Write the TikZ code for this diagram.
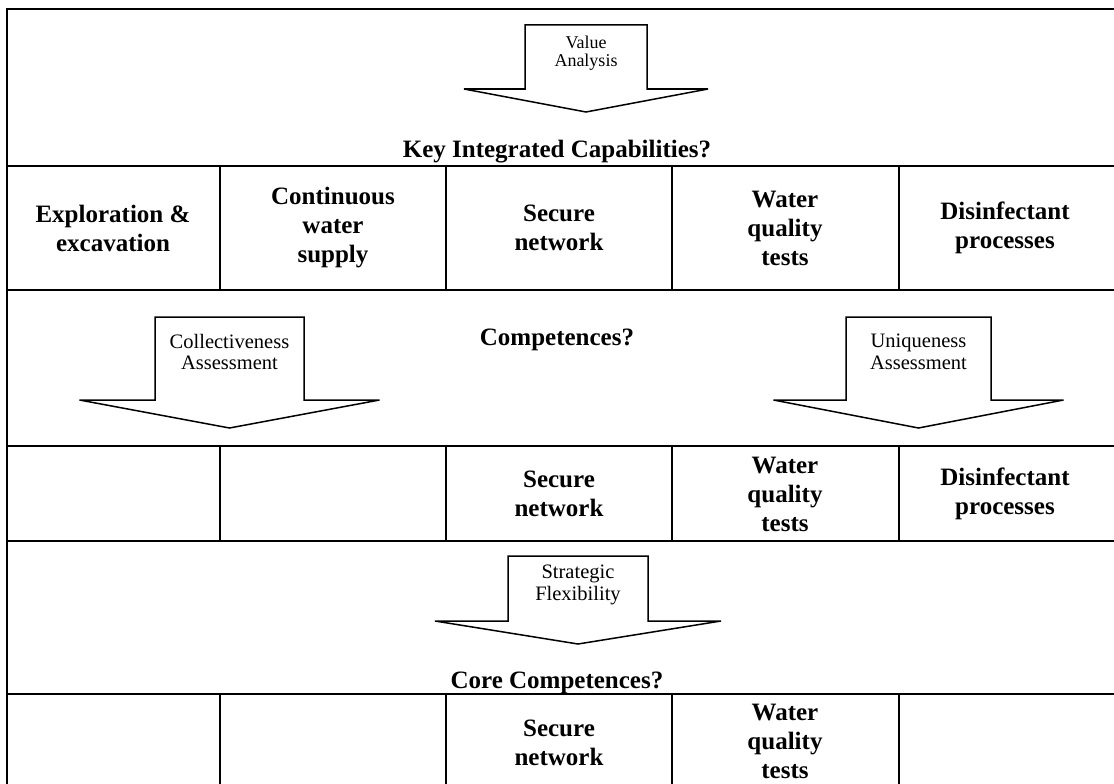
\documentclass[tikz,border=0pt]{standalone}
\usepackage{fontspec}
\setmainfont{Liberation Serif}
\begin{document}
\begin{tikzpicture}[x=1pt,y=-1pt,
  frame/.style={line width=1.6pt},
  cellline/.style={line width=1.4pt},
  arrowshape/.style={line width=1.5pt, fill=white, line join=miter},
  celltext/.style={align=center, font=\fontsize{25}{29}\selectfont\bfseries, inner sep=0pt},
  headtext/.style={font=\fontsize{25}{29}\selectfont\bfseries, inner sep=0pt},
  arrowtext/.style={align=center, font=\fontsize{20.5}{21.5}\selectfont, inner sep=0pt}]
\useasboundingbox (0,0) rectangle (1114,784);
\begin{scope}
\clip (0,0) rectangle (1114,784);
% outer frame (runs past the right and bottom edges)
\draw[frame] (1130,9) -- (7,9) -- (7,800);
% row separators
\foreach \y in {166,290,446,541,694}
  \draw[frame] (7,\y) -- (1130,\y);
% column separators in the three table rows
\foreach \x in {220,446,672,899} {
  \draw[cellline] (\x,166) -- (\x,290);
  \draw[cellline] (\x,446) -- (\x,541);
  \draw[cellline] (\x,694) -- (\x,800);
}
\end{scope}

% block arrow: centre x, box top, shoulder y, box half width, head half width, tip y
\newcommand{\blockarrow}[6]{%
  \draw[arrowshape] (#1-#4,#2) -- (#1+#4,#2) -- (#1+#4,#3) -- (#1+#5,#3)
    -- (#1,#6) -- (#1-#5,#3) -- (#1-#4,#3) -- cycle;}

\blockarrow{586}{25}{89}{61}{122}{112}
\node[arrowtext, font=\fontsize{18}{18.5}\selectfont] (va) at (586,53) {Value\\Analysis};

\node[headtext] (kic) at (557,152) {Key Integrated Capabilities?};

% capabilities row
\node[celltext] (c1) at (113,228) {Exploration \&\\excavation};
\node[celltext] (c2) at (333,228) {Continuous\\water\\supply};
\node[celltext] (c3) at (559,228) {Secure\\network};
\node[celltext] (c4) at (785,228) {Water\\quality\\tests};
\node[celltext] (c5) at (1005,228) {Disinfectant\\processes};

% competences row
\blockarrow{229.5}{317}{400}{74.5}{150}{428}
\node[arrowtext] (ca) at (229.5,352) {Collectiveness\\Assessment};
\node[headtext] (comp) at (557,340) {Competences?};
\blockarrow{918.5}{317}{400}{72.5}{145}{428}
\node[arrowtext] (ua) at (918.5,352) {Uniqueness\\Assessment};

\node[celltext] (d3) at (559,494) {Secure\\network};
\node[celltext] (d4) at (785,494) {Water\\quality\\tests};
\node[celltext] (d5) at (1005,494) {Disinfectant\\processes};

% core competences row
\blockarrow{578}{556}{621}{70}{143}{644}
\node[arrowtext] (sf) at (578,585) {Strategic\\Flexibility};
\node[headtext] (core) at (557,683) {Core Competences?};

\node[celltext] (e3) at (559,743) {Secure\\network};
\node[celltext] (e4) at (785,741) {Water\\quality\\tests};
\end{tikzpicture}
\end{document}
